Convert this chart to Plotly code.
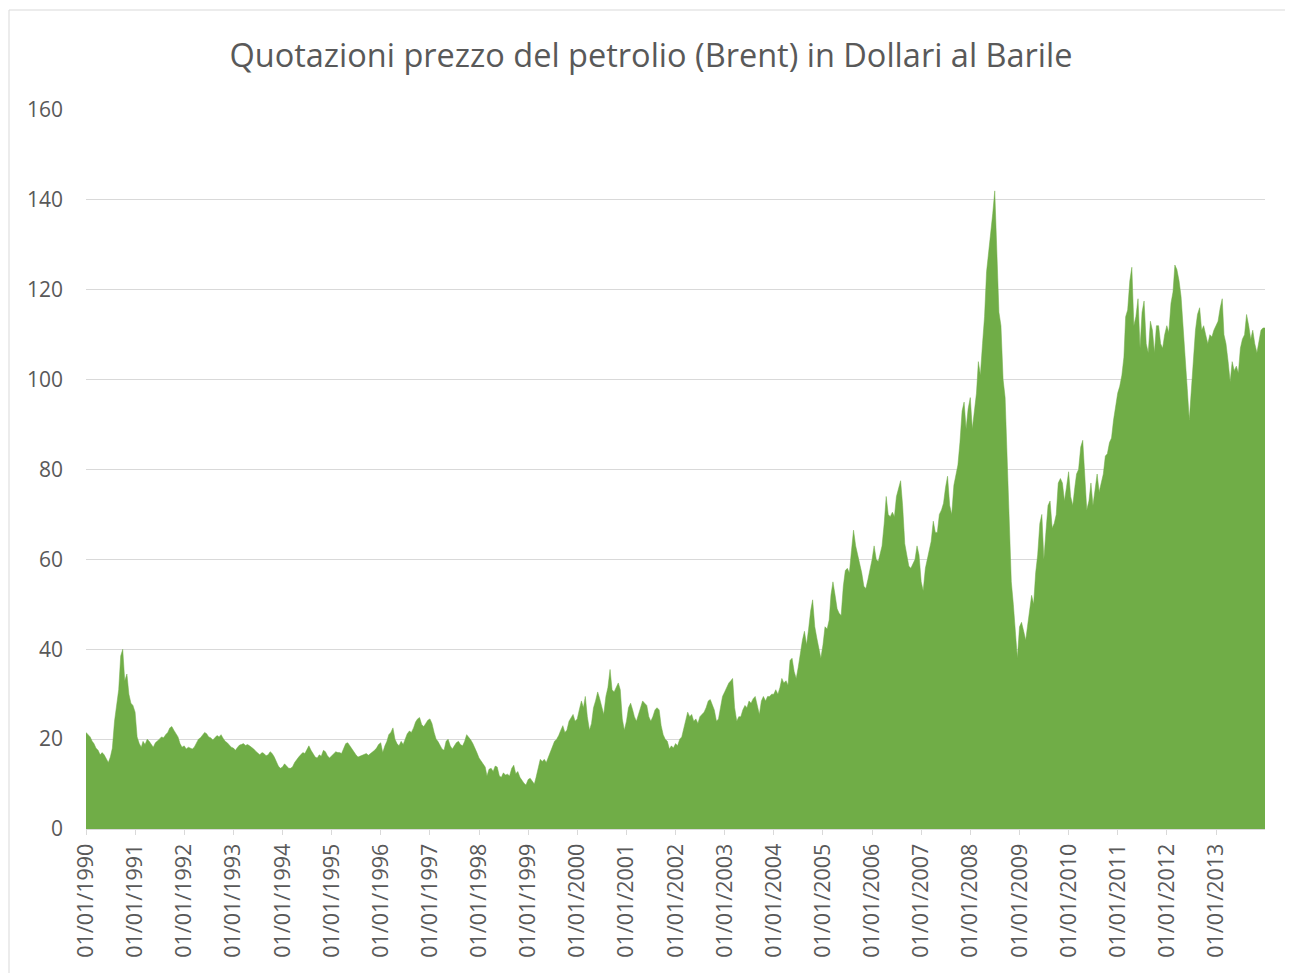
import plotly.graph_objects as go
import pandas as pd

# Semi-monthly Brent quotations (USD/barrel), two readings per month (1st and 16th)
years = list(range(1990, 2014))
p1990 = [21.5, 21, 20.5, 19.5, 19, 18, 17.5, 16.5, 17, 16.5, 15.5, 14.8, 16, 18, 24, 27.5, 31, 38.5, 40, 33, 34.5, 30, 28, 27.5]
p1991 = [26, 20.5, 19, 18.2, 19.5, 18.8, 20, 19.5, 18.8, 18.2, 19.2, 19.5, 20, 20.5, 20.3, 21, 21.5, 22.5, 22.8, 22, 21.3, 20.5, 19, 18.2]
p1992 = [18.5, 17.8, 18.2, 18, 17.8, 18.2, 19, 20, 20.3, 21, 21.5, 21.2, 20.5, 20.3, 19.8, 20.3, 20.8, 20.5, 21, 20.2, 19.5, 19.2, 18.6, 18.2]
p1993 = [18, 17.5, 18.2, 18.7, 18.8, 19, 18.6, 18.8, 18.5, 18.2, 17.8, 17.3, 16.8, 16.5, 17, 16.8, 16.3, 16.5, 17.2, 16.8, 16, 15, 14, 13.5]
p1994 = [13.8, 14.5, 14, 13.5, 13.5, 13.8, 14.8, 15.5, 16, 16.5, 17, 16.8, 17.8, 18.5, 17.5, 16.8, 16, 15.8, 16.5, 16.2, 17.5, 17.2, 16.3, 15.8]
p1995 = [16.3, 16.8, 17.2, 17, 17, 16.8, 18.2, 19, 19.2, 18.5, 17.8, 17.2, 16.5, 16, 16.2, 16.5, 16.6, 16.8, 16.4, 16.7, 17, 17.5, 18, 18.8]
p1996 = [19.2, 17, 18.5, 19.5, 21, 21.5, 22.5, 20, 19, 18.5, 19.5, 18.8, 20, 21.2, 21.8, 21.5, 22.5, 23.8, 24.5, 24.8, 23.2, 22.8, 23.5, 24.2]
p1997 = [24.5, 23.5, 21.5, 20, 19.5, 18.8, 17.8, 17.5, 19.5, 20, 18.5, 17.8, 18.5, 19.2, 19.5, 18.8, 18.5, 19.5, 21, 20.5, 19.8, 19, 17.8, 17]
p1998 = [15.8, 15.2, 14.3, 13.8, 11.8, 13.3, 13.5, 12.8, 14, 13.8, 11.8, 11.5, 12.5, 12, 12.2, 11.8, 13.5, 14.2, 12.3, 12.8, 11.5, 10.8, 10.2, 9.8]
p1999 = [11, 11.3, 10.5, 10, 11.5, 13.5, 15.5, 15, 15.5, 14.8, 16, 17.5, 18.5, 19.5, 20, 20.8, 22, 23, 21.5, 22, 24, 24.8, 25.5, 24]
p2000 = [24.5, 26.5, 28.5, 27, 29.5, 25, 22, 23.5, 27, 28.5, 30.5, 29, 27, 25.5, 29.5, 31.5, 35.5, 31, 30.5, 31.5, 32.5, 31, 24.5, 22]
p2001 = [24, 27, 28, 26.5, 25, 24, 25.5, 27, 28.5, 28, 27.5, 25, 24, 25, 26.5, 27, 26.5, 23, 21, 20, 19.5, 17.8, 18.5, 18]
p2002 = [19, 18.5, 20, 20.5, 22, 24, 26, 25, 25.5, 24, 24.5, 23.5, 25, 25.5, 26, 27, 28.5, 28.8, 27.5, 26.5, 24, 24.5, 27, 29.5]
p2003 = [30.5, 31.5, 32.5, 33, 33.5, 27, 24, 25, 25, 26.5, 27.5, 27, 28.5, 28, 29, 29.5, 27, 25.5, 28.5, 29.5, 28.5, 29.5, 29.5, 30]
p2004 = [30, 31, 30, 31.5, 33.5, 32.5, 33, 32, 37.5, 38, 35, 33.5, 36, 39.5, 42, 44, 41, 44.5, 48.5, 51, 45, 42.5, 40, 38]
p2005 = [41, 45, 44.5, 46.5, 52, 55, 52, 49, 48, 47.5, 54, 57.5, 58, 57, 62, 66.5, 63, 61, 58.5, 57, 54, 53.5, 55.5, 57.5]
p2006 = [60, 63, 60, 59.5, 61, 63, 68, 74, 70, 69.5, 70.5, 69.5, 74, 76, 77.5, 72, 63.5, 61, 58.5, 58, 59, 60, 63, 61]
p2007 = [55, 53, 58, 60, 62, 64, 68.5, 66, 66, 70, 71, 72.5, 76, 78.5, 72, 70, 76.5, 79, 81, 86, 93, 95, 89, 93.5]
p2008 = [96, 89, 93, 97, 104, 101, 108, 114, 124, 128, 133, 137, 142, 130, 115, 112, 100, 96, 82, 68, 55, 50, 44, 38]
p2009 = [45, 46, 44, 42, 45, 49, 52, 50, 57, 61, 68, 70, 60, 66, 72, 73, 67, 68, 70, 77, 78, 77, 73, 76]
p2010 = [79.5, 74, 72, 76, 79, 80, 85, 86.5, 78, 71, 73, 77, 72, 76, 79, 75, 77, 79, 83, 83.5, 86, 87, 91, 94]
p2011 = [97, 98.5, 101, 105, 114, 115.5, 122, 125, 112, 114, 118, 107, 115, 117.5, 108, 106, 113, 111, 106, 112, 112, 108, 107, 110]
p2012 = [112, 110.5, 117, 119.5, 125.5, 124.5, 122, 118.5, 112, 107, 98, 91, 97, 103, 111, 114.5, 116, 111, 112, 110, 108, 110, 109.5, 111]
p2013 = [112, 113, 116, 118, 110, 108, 104, 99.5, 104, 102, 103, 101.5, 107, 109, 110, 114.5, 112, 109, 111, 108, 106, 109, 111, 111.5]

series = [p1990, p1991, p1992, p1993, p1994, p1995, p1996, p1997, p1998, p1999, p2000, p2001,
          p2002, p2003, p2004, p2005, p2006, p2007, p2008, p2009, p2010, p2011, p2012, p2013]

dates, prices = [], []
for yr, vals in zip(years, series):
    for i, v in enumerate(vals):
        month = i // 2 + 1
        day = 1 if i % 2 == 0 else 16
        dates.append(pd.Timestamp(year=yr, month=month, day=day))
        prices.append(v)
# final point at end of 2013
dates.append(pd.Timestamp("2013-12-31"))
prices.append(p2013[-1])

tick_dates = [pd.Timestamp(year=y, month=1, day=1) for y in years]
tick_text = [f"01/01/{y}" for y in years]

# page body has an 8px margin, so the figure is offset by 8px
OFF = 8
W, H = 1293 - OFF, 973 - OFF
L, T = 86 - OFF, 110 - OFF
R = W - (1265 - OFF)
B = H - (829 - OFF)
pw, ph = W - L - R, H - T - B

fig = go.Figure()
fig.add_trace(go.Scatter(
    x=dates, y=prices, mode="lines", fill="tozeroy",
    line=dict(color="#70AD47", width=0.5), fillcolor="#70AD47",
    hoverinfo="x+y", showlegend=False,
))

font_fam = "Open Sans, Lato, sans-serif"
fig.update_layout(
    width=W, height=H,
    margin=dict(l=L, r=R, t=T, b=B, autoexpand=False),
    paper_bgcolor="white", plot_bgcolor="white",
    title=dict(text="Quotazioni prezzo del petrolio (Brent) in Dollari al Barile",
               x=(651 - OFF) / W, xanchor="center",
               y=1 - (56 - OFF) / H, yanchor="middle",
               font=dict(family=font_fam, size=32.5, color="#595959")),
    xaxis=dict(
        type="date",
        range=[pd.Timestamp("1990-01-01"), pd.Timestamp("2013-12-31")],
        tickvals=tick_dates, ticktext=tick_text, tickangle=-90,
        ticks="outside", ticklen=5, tickcolor="#D9D9D9", tickwidth=1,
        showline=True, linecolor="#D9D9D9", linewidth=1,
        showgrid=False, zeroline=False,
        tickfont=dict(family=font_fam, size=21.5, color="#595959"),
    ),
    yaxis=dict(
        range=[0, 160], dtick=20, tick0=0,
        showgrid=True, gridcolor="#D9D9D9", gridwidth=1,
        zeroline=False, showline=False, ticks="",
        ticklabelstandoff=22,
        tickfont=dict(family=font_fam, size=21, color="#595959"),
    ),
    shapes=[dict(type="rect", xref="paper", yref="paper",
                 x0=(1 - L) / pw, x1=(W + 20 - L) / pw,
                 y0=-(H + 20 - T - ph) / ph, y1=1 + (T - 2) / ph,
                 line=dict(color="#D9D9D9", width=1), fillcolor="rgba(0,0,0,0)",
                 layer="below")],
)

fig.write_html("out.html")
